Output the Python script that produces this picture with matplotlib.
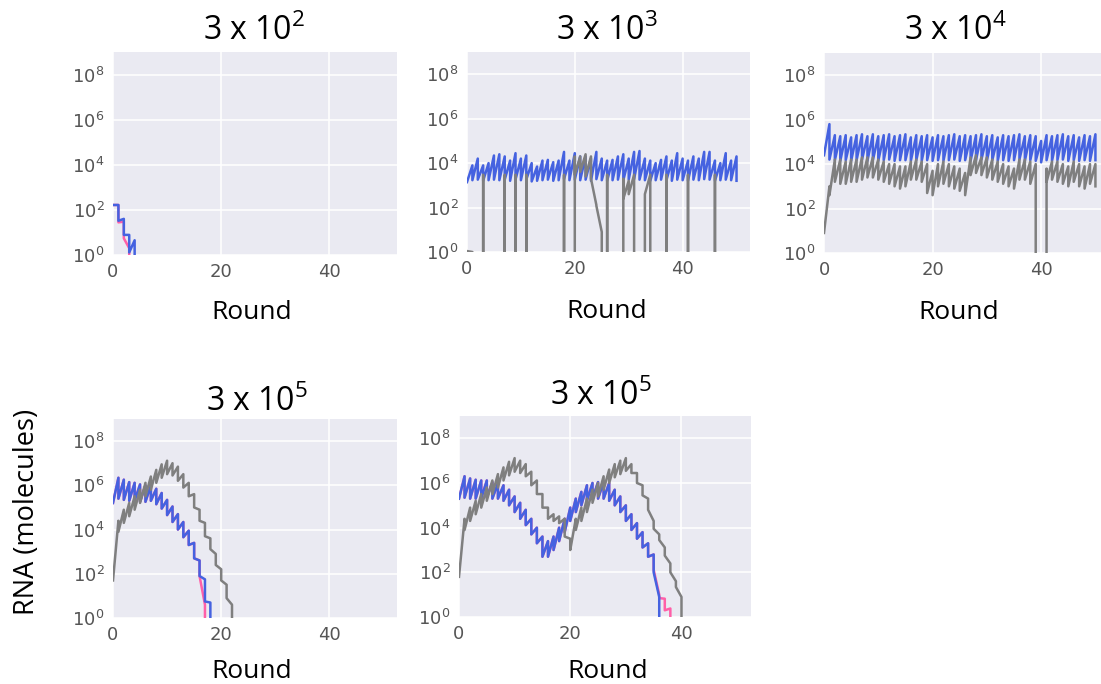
import matplotlib
matplotlib.use("Agg")
import matplotlib.pyplot as plt

plt.rcParams["mathtext.fontset"] = "dejavusans"
plt.rcParams["mathtext.rm"] = "Open Sans"
plt.rcParams["mathtext.it"] = "Open Sans:italic"
plt.rcParams["mathtext.bf"] = "Open Sans:bold"

# time axis: start point, then for each round the value before and after transfer
t = [0] + [k for k in range(1, 51) for _ in range(2)]

# ---- 3 x 10^2 ----
blue_3e2 = [165, 165, 33, 40, 7.8, 7.8, 1.3, 4.5, 0]
pink_3e2 = [165, 165, 28, 30, 5.5, 2, 0]

# ---- 3 x 10^3 ----
blue_3e3 = [
    1.4e3,
    7.9e3, 1.7e3, 1.6e4, 1.8e3, 7.9e3, 1.6e3, 1e4, 1.7e3, 2.2e4, 1.8e3,
    2.5e4, 1.7e3, 2e4, 1.8e3, 1.3e4, 1.6e3, 2.8e4, 1.8e3, 1.6e4, 1.7e3,
    2.2e4, 1.8e3, 1e4, 1.5e3, 7e3, 1.6e3, 1.3e4, 1.7e3, 1.4e4, 1.8e3,
    1.1e4, 1.6e3, 1.3e4, 1.7e3, 3.2e4, 1.9e3, 1.3e4, 1.7e3, 2.8e4, 1.8e3,
    2e4, 1.7e3, 2e4, 1.8e3, 1.6e4, 1.6e3, 3.2e4, 1.9e3, 1.6e4, 1.7e3,
    1.3e4, 1.6e3, 1.4e4, 1.7e3, 2e4, 1.8e3, 2.5e4, 1.7e3, 1.6e4, 1.8e3,
    3.2e4, 1.9e3, 3.5e4, 1.8e3, 1.6e4, 1.7e3, 1.3e4, 1.6e3, 1e4, 1.7e3,
    1.4e4, 1.8e3, 2e4, 1.7e3, 1.3e4, 1.6e3, 2.8e4, 1.8e3, 1.6e4, 1.7e3,
    1.3e4, 1.6e3, 2e4, 1.8e3, 1.6e4, 1.7e3, 3.2e4, 1.9e3, 3.2e4, 1.8e3,
    1.3e4, 1.6e3, 1e4, 1.7e3, 2.8e4, 1.8e3, 1.3e4, 1.7e3, 2e4, 1.6e3,
]
gray_3e3 = [
    1.1,
    1.0, 0, 0, 0, 3e3, 0, 0, 0, 0, 0,
    0, 0, 3e3, 0, 0, 0, 3e3, 0, 0, 0,
    3e3, 0, 0, 0, 0, 0, 0, 0, 0, 0,
    0, 0, 0, 0, 3e3, 0, 0, 0, 2e4, 3e3,
    2e4, 4e3, 2.5e4, 2.5e3, 2e4, 2e3, 1.3e2, 1.2e2, 8, 0,
    3e3, 0, 0, 0, 0, 0, 2e3, 2.5e2, 1.6e3, 4e2,
    3e3, 0, 0, 0, 4e2, 4e2, 3e3, 0, 0, 0,
    0, 0, 3e3, 0, 0, 0, 0, 0, 0, 0,
    3e3, 0, 0, 0, 0, 0, 0, 0, 0, 0,
    3e3, 0, 0, 0, 0, 0, 0, 0, 0, 0,
]

# ---- 3 x 10^4 ----
blue_3e4 = [
    2.5e4,
    6.3e5, 1.6e4, 2e5, 1.5e4, 1.8e5, 1.4e4, 2e5, 1.5e4, 1.6e5, 1.4e4,
    2e5, 1.5e4, 2.2e5, 1.6e4, 1.8e5, 1.4e4, 2.2e5, 1.5e4, 1.8e5, 1.4e4,
    2e5, 1.5e4, 2.2e5, 1.6e4, 1.8e5, 1.4e4, 2e5, 1.5e4, 2.2e5, 1.5e4,
    1.6e5, 1.4e4, 2e5, 1.5e4, 1.8e5, 1.4e4, 2e5, 1.5e4, 1.6e5, 1.4e4,
    2e5, 1.5e4, 1.8e5, 1.4e4, 2e5, 1.5e4, 2.2e5, 1.6e4, 1.8e5, 1.4e4,
    2e5, 1.5e4, 1.8e5, 1.4e4, 2e5, 1.5e4, 2.2e5, 1.6e4, 1.8e5, 1.4e4,
    2e5, 1.5e4, 1.6e5, 1.4e4, 2e5, 1.5e4, 1.8e5, 1.4e4, 2e5, 1.5e4,
    2.2e5, 1.6e4, 1.8e5, 1.4e4, 2e5, 1.5e4, 1.8e5, 1.4e4, 1.1e5, 1.2e4,
    2e5, 1.5e4, 1.8e5, 1.4e4, 2e5, 1.5e4, 2.2e5, 1.6e4, 1.8e5, 1.4e4,
    2e5, 1.5e4, 1.6e5, 1.4e4, 2e5, 1.5e4, 1.8e5, 1.4e4, 2.2e5, 1.5e4,
]
gray_3e4 = [
    8,
    1e3, 4e2, 1.6e4, 1.6e3, 1.6e4, 1.3e3, 1.3e4, 1.3e3, 1.6e4, 1.6e3,
    1.6e4, 1.6e3, 2e4, 2e3, 2e4, 2.5e3, 2e4, 2.5e3, 1.6e4, 2e3,
    1.3e4, 1.6e3, 1e4, 1.3e3, 1e4, 1e3, 7.9e3, 7.9e2, 7.9e3, 1e3,
    1.3e4, 2e3, 1.6e4, 2e3, 1.3e4, 1.6e3, 1e4, 5e2, 5e3, 4e2,
    1e4, 1e3, 1.3e4, 1.3e3, 1e4, 1e3, 7.9e3, 7.9e2, 6.3e3, 6.3e2,
    4e3, 4e2, 2e4, 3.2e3, 2.5e4, 4e3, 2e4, 3.2e3, 2e4, 2.5e3,
    1.6e4, 2e3, 1.3e4, 1.6e3, 1e4, 1.3e3, 7.9e3, 1e3, 6.3e3, 7.9e2,
    1.6e4, 2e3, 1.6e4, 2e3, 1.3e4, 1.3e3, 1e4, 0, 0, 0,
    6.3e3, 1.6e3, 1.3e4, 2e3, 1.3e4, 1.6e3, 1e4, 1.3e3, 7.9e3, 1e3,
    1.3e4, 1.6e3, 1e4, 1e3, 7.9e3, 7.9e2, 1e4, 1.3e3, 1e4, 1e3,
]

# ---- 3 x 10^5 (first run) ----
blue_3e5a = [
    1.6e5,
    2.2e6, 2.5e5, 1.8e6, 2.2e5, 1.4e6, 2e5, 1.3e6, 2e5, 1.1e6, 1.8e5,
    1e6, 1.8e5, 1e6, 2e5, 7e5, 1.4e5, 4.5e5, 8.9e4, 2.2e5, 4.5e4,
    1.1e5, 2.2e4, 5e4, 1e4, 2.2e4, 4.5e3, 8.9e3, 2e3, 2.5e3, 5e2,
    4e2, 79, 56, 5.6, 5, 0,
]
pink_3e5a = blue_3e5a[:33] + [4, 0]
gray_3e5a = [
    50,
    2.5e4, 7.9e3, 7.9e4, 2e4, 1.6e5, 4e4, 3.2e5, 7.9e4, 6.3e5, 1.6e5,
    1.3e6, 3.2e5, 2.5e6, 6.3e5, 5e6, 1.3e6, 8.9e6, 2.2e6, 1.3e7, 3.2e6,
    1e7, 2.8e6, 7e6, 1.6e6, 3.2e6, 7.9e5, 1.3e6, 3.2e5, 4e5, 1e5,
    7.9e4, 2.5e4, 2e4, 5e3, 4e3, 1.3e3, 7.9e2, 2.5e2, 1.6e2, 50,
    32, 7.9, 4, 0,
]

# ---- 3 x 10^5 (second run) ----
blue_3e5b = [
    2e5,
    2e6, 2.2e5, 1.6e6, 2e5, 1.4e6, 2e5, 1.3e6, 2e5, 1.3e6, 2.2e5,
    1.1e6, 2e5, 1e6, 2e5, 7.9e5, 1.6e5, 5e5, 1e5, 2.5e5, 5e4,
    1.3e5, 2.5e4, 6.3e4, 1.3e4, 2.5e4, 5e3, 1e4, 2e3, 4e3, 5e2,
    2.5e3, 5e2, 4e3, 1e3, 1e4, 2.5e3, 2.5e4, 6.3e3, 7.9e4, 2e4,
    2e5, 5e4, 4e5, 1e5, 7.9e5, 1.6e5, 1e6, 2e5, 1.1e6, 2e5,
    1.1e6, 2e5, 1e6, 1.6e5, 5e5, 1e5, 2.5e5, 5e4, 1e5, 2e4,
    4e4, 7.9e3, 1.6e4, 3.2e3, 6.3e3, 1.3e3, 2e3, 5e2, 6.3e2, 1e2,
    7.9, 0,
]
pink_3e5b = blue_3e5b[:69] + [6.3e2, 1.3e2, 10, 7, 6.6, 2.0, 2.4, 0]
gray_3e5b = [
    63,
    2.5e4, 7.9e3, 7.9e4, 2e4, 1.6e5, 4e4, 3.2e5, 7.9e4, 6.3e5, 1.6e5,
    1.3e6, 3.2e5, 2.5e6, 6.3e5, 5e6, 1.3e6, 8.9e6, 2.2e6, 1.3e7, 3.2e6,
    1e7, 2.8e6, 7e6, 2e6, 3.2e6, 7.9e5, 1.3e6, 3.2e5, 3.2e5, 7.9e4,
    7.9e4, 2.5e4, 4e4, 2e4, 3.2e4, 1.6e4, 2.5e4, 4e3, 3.2e3, 1e3,
    2.5e4, 7.9e3, 7.9e4, 2e4, 2e5, 5e4, 5e5, 1.3e5, 1e6, 2.5e5,
    2e6, 5e5, 4e6, 1e6, 7e6, 1.8e6, 1e7, 2.5e6, 1.3e7, 3.5e6,
    7e6, 2.8e6, 2.8e6, 1e6, 7.9e5, 2.8e5, 2e5, 6.3e4, 2e4, 8.9e3,
    5e3, 2.8e3, 1.3e3, 5.6e2, 2.5e2, 1e2, 40, 22, 7.9, 0,
]

titles = [r"3 x 10$^{\mathrm{2}}$", r"3 x 10$^{\mathrm{3}}$", r"3 x 10$^{\mathrm{4}}$",
          r"3 x 10$^{\mathrm{5}}$", r"3 x 10$^{\mathrm{5}}$"]

W, H = 1101, 684
fig = plt.figure(figsize=(W / 100, H / 100), dpi=100)
fig.patch.set_facecolor("white")

BLUE = "#4562e0"
PINK = "#ff5fa8"
GRAY = "#7f7f7f"
TICK = "#555555"
TXT = "Open Sans"


def panel(left, top, right, bottom, series):
    ax = fig.add_axes([left / W, 1 - bottom / H, (right - left) / W, (bottom - top) / H])
    ax.set_facecolor("#eaeaf2")
    for s in ax.spines.values():
        s.set_visible(False)
    ax.set_yscale("log")
    for vals, col, z in series:
        ax.plot(t[:len(vals)], vals, color=col, lw=1.8, zorder=z)
    ax.set_xlim(0, 52.5)
    ax.set_ylim(1, 1e9)
    ax.set_xticks([0, 20, 40])
    ax.set_yticks([1e0, 1e2, 1e4, 1e6, 1e8])
    ax.minorticks_off()
    ax.grid(True, color="white", lw=1.1)
    ax.set_axisbelow(True)
    ax.tick_params(length=0, labelsize=13, labelcolor=TICK, pad=6)
    return ax


panel(113, 52, 397, 255, [(pink_3e2, PINK, 2), (blue_3e2, BLUE, 3)])
panel(467, 52, 750, 252, [(blue_3e3, BLUE, 3), (gray_3e3, GRAY, 4)])
panel(824, 53, 1109, 253, [(blue_3e4, BLUE, 3), (gray_3e4, GRAY, 4)])
panel(113, 419, 397, 618, [(pink_3e5a, PINK, 2), (blue_3e5a, BLUE, 3), (gray_3e5a, GRAY, 4)])
panel(459, 416, 751, 617, [(pink_3e5b, PINK, 2), (blue_3e5b, BLUE, 3), (gray_3e5b, GRAY, 4)])

# titles and axis labels (placed like the slide text)
title_pos = [(254, 40), (607, 40), (955, 40), (257, 411), (601, 405)]
for (cx, base), s in zip(title_pos, titles):
    fig.text(cx / W, 1 - base / H, s, ha="center", va="baseline", fontsize=23,
             family=TXT, math_fontfamily="custom")

for cx, base in [(252, 319), (607, 318), (959, 319), (252, 678), (608, 678)]:
    fig.text(cx / W, 1 - base / H, "Round", ha="center", va="baseline", fontsize=19, family=TXT)

fig.text(27 / W, 1 - 512 / H, "RNA (molecules)", rotation=90, ha="center", va="center",
         fontsize=19.5, family=TXT)

fig.savefig("out.png", dpi=100)
